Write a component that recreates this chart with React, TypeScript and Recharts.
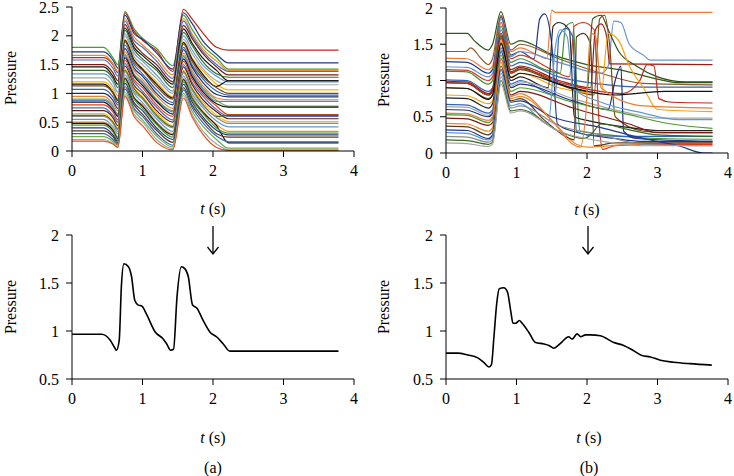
import React from 'react';
import { LineChart, Line, XAxis, YAxis } from 'recharts';

const FONT = 'Times New Roman, Liberation Serif, serif';

// time grid shared by the traces of panel (a), top
const tA = [0, 0.45, 0.58, 0.65, 0.75, 0.88, 1.0, 1.2, 1.43, 1.58, 1.7, 1.85, 2.05, 2.22, 3.78];

const linesA: number[][] = [
  [1.80, 1.80, 1.62, 1.50, 2.42, 2.12, 1.96, 1.78, 1.48, 2.36, 2.12, 1.84, 1.62, 1.42, 1.42],
  [1.62, 1.62, 1.50, 1.36, 2.40, 2.08, 1.92, 1.74, 1.38, 2.46, 2.30, 2.06, 1.80, 1.75, 1.75],
  [1.72, 1.72, 1.58, 1.44, 2.36, 2.04, 1.94, 1.70, 1.42, 2.40, 2.22, 1.92, 1.68, 1.53, 1.53],
  [1.66, 1.66, 1.52, 1.38, 2.30, 1.98, 1.84, 1.62, 1.32, 2.30, 2.04, 1.78, 1.56, 1.40, 1.40],
  [1.58, 1.58, 1.44, 1.30, 2.26, 1.92, 1.80, 1.56, 1.26, 2.26, 2.00, 1.74, 1.50, 1.38, 1.38],
  [1.50, 1.50, 1.36, 1.22, 2.20, 1.86, 1.70, 1.50, 1.20, 2.18, 1.96, 1.70, 1.46, 1.32, 1.32],
  [1.46, 1.46, 1.30, 1.16, 2.14, 1.80, 1.66, 1.44, 1.16, 2.12, 1.88, 1.62, 1.40, 1.22, 1.22],
  [1.40, 1.40, 1.26, 1.10, 2.10, 1.76, 1.60, 1.40, 1.10, 2.06, 1.84, 1.56, 1.34, 1.28, 1.28],
  [1.34, 1.34, 1.20, 1.02, 2.04, 1.70, 1.56, 1.32, 1.04, 2.00, 1.76, 1.50, 1.30, 1.20, 1.20],
  [1.27, 1.27, 1.12, 0.96, 2.00, 1.64, 1.50, 1.26, 1.00, 1.94, 1.70, 1.44, 1.22, 1.15, 1.15],
  [1.20, 1.20, 1.06, 0.90, 1.94, 1.60, 1.44, 1.20, 0.94, 1.90, 1.62, 1.40, 1.16, 1.06, 1.06],
  [1.16, 1.16, 1.02, 0.88, 1.92, 1.58, 1.42, 1.16, 0.92, 1.88, 1.60, 1.34, 1.12, 1.22, 1.22],
  [1.13, 1.13, 1.00, 0.84, 1.90, 1.54, 1.40, 1.12, 0.90, 1.86, 1.56, 1.30, 1.10, 1.00, 1.00],
  [1.07, 1.07, 0.94, 0.80, 1.84, 1.50, 1.34, 1.06, 0.84, 1.80, 1.50, 1.26, 1.04, 0.97, 0.97],
  [1.00, 1.00, 0.88, 0.74, 1.78, 1.44, 1.30, 1.00, 0.80, 1.76, 1.46, 1.20, 0.98, 0.94, 0.94],
  [0.95, 0.95, 0.82, 0.70, 1.72, 1.40, 1.24, 0.96, 0.74, 1.70, 1.40, 1.14, 0.92, 0.89, 0.89],
  [0.90, 0.90, 0.78, 0.64, 1.68, 1.34, 1.20, 0.90, 0.70, 1.66, 1.36, 1.10, 0.88, 0.78, 0.78],
  [0.88, 0.88, 0.76, 0.62, 1.66, 1.32, 1.18, 0.88, 0.68, 1.64, 1.34, 1.08, 0.86, 0.86, 0.86],
  [0.85, 0.85, 0.72, 0.60, 1.62, 1.30, 1.14, 0.86, 0.64, 1.60, 1.30, 1.04, 0.82, 0.76, 0.76],
  [0.80, 0.80, 0.68, 0.54, 1.58, 1.24, 1.10, 0.80, 0.60, 1.56, 1.26, 1.00, 0.78, 0.63, 0.63],
  [0.75, 0.75, 0.62, 0.50, 1.52, 1.20, 1.04, 0.76, 0.54, 1.50, 1.20, 0.96, 0.72, 0.60, 0.60],
  [0.70, 0.70, 0.58, 0.44, 1.48, 1.14, 1.00, 0.70, 0.50, 1.46, 1.16, 0.90, 0.68, 0.56, 0.56],
  [0.65, 0.65, 0.52, 0.40, 1.42, 1.10, 0.94, 0.66, 0.44, 1.40, 1.10, 0.86, 0.62, 0.51, 0.51],
  [0.62, 0.62, 0.50, 0.38, 1.40, 1.08, 0.92, 0.62, 0.42, 1.38, 1.08, 0.82, 0.60, 0.62, 0.62],
  [0.60, 0.60, 0.48, 0.34, 1.38, 1.04, 0.90, 0.60, 0.40, 1.36, 1.06, 0.80, 0.58, 0.48, 0.48],
  [0.55, 0.55, 0.42, 0.30, 1.32, 1.00, 0.84, 0.56, 0.34, 1.30, 1.00, 0.76, 0.52, 0.42, 0.42],
  [0.50, 0.50, 0.38, 0.25, 1.28, 0.94, 0.80, 0.50, 0.30, 1.26, 0.96, 0.70, 0.46, 0.34, 0.34],
  [0.48, 0.48, 0.36, 0.22, 1.26, 0.92, 0.78, 0.48, 0.28, 1.24, 0.92, 0.68, 0.44, 0.14, 0.14],
  [0.45, 0.45, 0.33, 0.20, 1.22, 0.90, 0.74, 0.46, 0.24, 1.20, 0.90, 0.66, 0.40, 0.31, 0.31],
  [0.40, 0.40, 0.28, 0.17, 1.18, 0.84, 0.70, 0.40, 0.20, 1.16, 0.86, 0.60, 0.36, 0.28, 0.28],
  [0.35, 0.35, 0.25, 0.14, 1.12, 0.80, 0.64, 0.36, 0.15, 1.10, 0.80, 0.56, 0.30, 0.24, 0.24],
  [0.30, 0.30, 0.20, 0.12, 1.08, 0.74, 0.60, 0.30, 0.10, 1.06, 0.76, 0.50, 0.26, 0.16, 0.16],
  [0.25, 0.25, 0.17, 0.10, 1.02, 0.70, 0.54, 0.26, 0.07, 1.00, 0.70, 0.44, 0.20, 0.05, 0.05],
  [0.20, 0.20, 0.14, 0.08, 0.98, 0.64, 0.50, 0.20, 0.04, 0.96, 0.64, 0.36, 0.12, 0.02, 0.02],
  [0.17, 0.17, 0.12, 0.06, 0.95, 0.60, 0.44, 0.15, 0.02, 0.92, 0.60, 0.30, 0.06, 0.01, 0.01],
];

const colorsA = [
  '#4e9a2f', '#c0281a', '#1f3a8a', '#f08a24', '#4472c4', '#7b1a10', '#111111', '#3a6b22',
  '#5b9bd5', '#a5a5a5', '#ffb000', '#111111', '#7f4a1a', '#2e64b8', '#1b2f6b', '#ed7d31',
  '#70ad47', '#5b7fd0', '#111111', '#e03c1f', '#4472c4', '#6b1a10', '#ffc000', '#3a6b22',
  '#8c8c8c', '#5b9bd5', '#f08a24', '#111111', '#4e9a2f', '#1f3a8a', '#5c3a1a', '#2e64b8',
  '#70ad47', '#a5a5a5', '#e8501a',
];

// panel (b), top: each trace as [t, pressure] pairs
const linesB: number[][][] = [
  [[0, 1.65], [0.3, 1.65], [0.4, 1.55], [0.6, 1.42], [0.66, 1.5], [0.78, 1.95], [0.92, 1.5], [1.05, 1.55], [1.5, 1.36], [2.0, 1.22], [2.5, 1.14], [3.0, 1.02], [3.3, 0.97], [3.78, 0.97]],
  [[0, 1.4], [0.28, 1.4], [0.35, 1.45], [0.5, 1.3], [0.6, 1.22], [0.66, 1.3], [0.78, 1.9], [0.92, 1.42], [1.05, 1.5], [1.6, 1.3], [2.2, 1.1], [2.8, 0.96], [3.78, 0.94]],
  [[0, 1.31], [0.3, 1.3], [0.6, 1.15], [0.66, 1.2], [0.78, 1.9], [0.92, 1.4], [1.05, 1.45], [1.3, 1.35], [1.43, 1.3], [1.5, 1.97], [1.55, 1.94], [3.78, 1.94]],
  [[0, 1.26], [0.3, 1.25], [0.6, 1.1], [0.66, 1.15], [0.78, 1.88], [0.92, 1.35], [1.05, 1.4], [1.25, 1.3], [1.33, 1.85], [1.4, 1.92], [1.5, 1.5], [1.58, 0.4], [1.8, 0.3], [2.4, 0.2], [2.8, 0.16], [3.78, 0.16]],
  [[0, 1.19], [0.3, 1.18], [0.6, 1.05], [0.66, 1.1], [0.78, 1.85], [0.92, 1.33], [1.05, 1.4], [1.6, 1.25], [2.2, 1.1], [2.3, 1.2], [2.38, 1.82], [2.48, 1.8], [2.6, 1.5], [2.8, 1.35], [2.9, 1.28], [3.78, 1.28]],
  [[0, 1.15], [0.3, 1.14], [0.6, 1.0], [0.66, 1.05], [0.78, 1.8], [0.92, 1.3], [1.05, 1.35], [1.5, 1.15], [1.75, 1.05], [1.82, 1.75], [1.95, 1.8], [2.1, 1.7], [2.18, 0.3], [2.22, 0.05], [2.4, 0.1], [3.0, 0.12], [3.78, 0.12]],
  [[0, 1.13], [0.3, 1.12], [0.6, 0.95], [0.66, 1.0], [0.78, 1.75], [0.92, 1.25], [1.05, 1.3], [1.4, 1.15], [1.62, 1.1], [1.7, 1.75], [1.8, 1.8], [1.85, 1.0], [1.9, 0.3], [2.3, 0.25], [3.0, 0.2], [3.78, 0.19]],
  [[0, 1.01], [0.3, 1.0], [0.6, 0.85], [0.66, 0.9], [0.78, 1.7], [0.92, 1.2], [1.05, 1.25], [1.6, 1.05], [2.2, 0.95], [2.8, 0.91], [3.78, 0.91]],
  [[0, 0.99], [0.3, 0.98], [0.6, 0.82], [0.66, 0.88], [0.78, 1.65], [0.92, 1.15], [1.05, 1.2], [1.6, 1.0], [2.05, 0.9], [2.12, 1.7], [2.2, 1.78], [2.28, 1.6], [2.32, 1.23], [3.78, 1.22]],
  [[0, 0.97], [0.3, 0.96], [0.6, 0.8], [0.66, 0.85], [0.78, 1.62], [0.92, 1.12], [1.05, 1.18], [1.5, 1.0], [2.0, 0.85], [2.08, 1.85], [2.2, 1.9], [2.3, 1.7], [2.45, 1.4], [2.7, 1.2], [3.0, 1.05], [3.4, 0.98], [3.78, 0.98]],
  [[0, 0.9], [0.3, 0.89], [0.6, 0.75], [0.66, 0.8], [0.78, 1.58], [0.92, 1.1], [1.05, 1.15], [1.6, 0.95], [2.1, 0.8], [2.18, 1.85], [2.25, 1.9], [2.32, 1.5], [2.4, 0.5], [2.8, 0.3], [3.1, 0.28], [3.78, 0.28]],
  [[0, 0.97], [0.3, 0.96], [0.6, 0.8], [0.66, 0.86], [0.78, 1.6], [0.92, 1.1], [1.05, 1.16], [1.7, 0.95], [2.5, 0.82], [2.75, 1.0], [2.85, 1.22], [2.95, 1.2], [3.02, 0.75], [3.2, 0.7], [3.78, 0.69]],
  [[0, 0.8], [0.3, 0.79], [0.6, 0.68], [0.66, 0.72], [0.78, 1.55], [0.92, 1.05], [1.05, 1.1], [1.6, 0.9], [2.2, 0.82], [2.3, 1.65], [2.45, 1.55], [2.6, 1.2], [2.8, 0.9], [3.0, 0.6], [3.78, 0.57]],
  [[0, 0.76], [0.3, 0.75], [0.6, 0.62], [0.66, 0.68], [0.78, 1.5], [0.92, 1.0], [1.05, 1.05], [1.45, 0.9], [1.52, 1.75], [1.6, 1.8], [1.75, 1.7], [1.82, 0.5], [2.0, 0.45], [2.6, 0.35], [3.0, 0.31], [3.78, 0.31]],
  [[0, 0.67], [0.3, 0.66], [0.6, 0.55], [0.66, 0.6], [0.78, 1.45], [0.92, 0.95], [1.05, 1.0], [1.55, 0.8], [1.6, 1.6], [1.7, 1.72], [1.8, 1.6], [1.85, 0.3], [2.0, 0.25], [2.5, 0.23], [3.78, 0.23]],
  [[0, 0.64], [0.3, 0.63], [0.6, 0.52], [0.66, 0.58], [0.78, 1.42], [0.92, 0.92], [1.05, 0.98], [1.8, 0.75], [2.6, 0.55], [3.0, 0.48], [3.78, 0.48]],
  [[0, 0.6], [0.3, 0.59], [0.6, 0.5], [0.66, 0.55], [0.78, 1.4], [0.92, 0.9], [1.05, 0.95], [1.8, 0.72], [2.3, 0.6], [2.4, 1.0], [2.48, 1.2], [2.52, 0.3], [2.7, 0.2], [3.78, 0.16]],
  [[0, 0.53], [0.3, 0.52], [0.6, 0.42], [0.66, 0.48], [0.78, 1.35], [0.92, 0.85], [1.05, 0.9], [1.8, 0.7], [2.5, 0.55], [3.2, 0.4], [3.78, 0.34]],
  [[0, 0.48], [0.3, 0.47], [0.6, 0.38], [0.66, 0.42], [0.78, 1.3], [0.92, 0.8], [1.05, 0.85], [1.8, 0.62], [2.6, 0.4], [3.0, 0.28], [3.78, 0.28]],
  [[0, 0.41], [0.3, 0.4], [0.6, 0.3], [0.66, 0.35], [0.78, 1.25], [0.92, 0.75], [1.05, 0.78], [1.5, 0.45], [1.85, 0.12], [2.0, 0.08], [2.6, 0.12], [3.78, 0.14]],
  [[0, 0.37], [0.3, 0.36], [0.6, 0.25], [0.66, 0.3], [0.78, 1.2], [0.92, 0.72], [1.05, 0.75], [1.4, 0.45], [1.75, 0.2], [1.82, 0.18], [1.85, 1.6], [1.95, 1.65], [2.05, 1.5], [2.1, 0.1], [2.4, 0.14], [3.78, 0.14]],
  [[0, 0.32], [0.3, 0.31], [0.6, 0.2], [0.66, 0.25], [0.78, 1.15], [0.92, 0.7], [1.05, 0.72], [1.5, 0.5], [2.2, 0.35], [2.8, 0.2], [3.3, 0.1], [3.65, 0.0], [3.78, 0.0]],
  [[0, 0.28], [0.3, 0.27], [0.6, 0.18], [0.66, 0.22], [0.78, 1.1], [0.92, 0.65], [1.05, 0.68], [1.45, 0.4], [1.55, 1.45], [1.62, 1.7], [1.72, 1.6], [1.8, 0.9], [2.2, 0.7], [2.8, 0.55], [3.3, 0.46], [3.78, 0.46]],
  [[0, 0.23], [0.3, 0.22], [0.6, 0.15], [0.66, 0.18], [0.78, 1.05], [0.92, 0.62], [1.05, 0.65], [1.6, 0.38], [2.2, 0.25], [2.8, 0.12], [3.78, 0.1]],
  [[0, 0.18], [0.3, 0.17], [0.6, 0.12], [0.66, 0.15], [0.78, 1.0], [0.92, 0.58], [1.05, 0.6], [1.6, 0.3], [1.95, 0.2], [2.05, 0.25], [2.2, 0.4], [2.6, 0.32], [3.0, 0.25], [3.78, 0.23]],
  [[0, 0.14], [0.3, 0.13], [0.6, 0.09], [0.66, 0.12], [0.78, 0.95], [0.92, 0.55], [1.05, 0.58], [1.6, 0.3], [2.3, 0.15], [2.8, 0.1], [3.78, 0.1]],
  [[0, 0.9], [0.3, 0.89], [0.6, 0.74], [0.66, 0.8], [0.78, 1.52], [0.92, 1.04], [1.05, 1.1], [1.7, 0.92], [2.4, 0.8], [3.1, 0.85], [3.78, 0.85]],
  [[0, 0.55], [0.3, 0.54], [0.6, 0.45], [0.66, 0.5], [0.78, 1.3], [0.92, 0.78], [1.05, 0.82], [1.5, 0.45], [1.8, 0.12], [1.9, 0.08], [1.98, 0.5], [2.05, 1.65], [2.12, 1.62], [2.2, 0.9], [2.8, 0.65], [3.78, 0.62]],
];

const colorsB = [
  '#2f5a1a', '#8a5a2a', '#f4793b', '#1f3a8a', '#6b93d6', '#d9381e', '#3f8f2f', '#2e64b8',
  '#9b1c14', '#2f4f1a', '#7a4a12', '#c0281a', '#ffa000', '#222222', '#2e64b8', '#a5a5a5',
  '#1b2f8b', '#4e9a2f', '#7b1a10', '#f08a24', '#5c3a1a', '#1f3a8a', '#5b9bd5', '#8c8c8c',
  '#3a6b22', '#a5a5a5', '#111111', '#ed7d31',
];

// ensemble means (bottom panels), [t, pressure]
const meanA: number[][] = [
  [0, 0.966], [0.42, 0.966], [0.54, 0.906], [0.61, 0.82], [0.63, 0.8], [0.67, 0.906], [0.7, 1.46],
  [0.737, 1.7], [0.8, 1.67], [0.845, 1.565], [0.89, 1.32], [0.94, 1.27], [0.99, 1.26], [1.06, 1.17],
  [1.18, 0.99], [1.29, 0.92], [1.34, 0.87], [1.4, 0.8], [1.44, 0.81], [1.49, 1.36], [1.55, 1.67],
  [1.6, 1.65], [1.65, 1.565], [1.71, 1.27], [1.77, 1.24], [1.86, 1.11], [1.955, 0.99], [2.05, 0.94],
  [2.14, 0.87], [2.24, 0.79], [2.28, 0.79], [3.78, 0.79],
];

const meanB: number[][] = [
  [0, 0.77], [0.165, 0.77], [0.31, 0.75], [0.45, 0.72], [0.54, 0.67], [0.61, 0.625], [0.645, 0.65],
  [0.68, 0.94], [0.72, 1.29], [0.755, 1.44], [0.82, 1.45], [0.87, 1.41], [0.92, 1.2], [0.95, 1.08],
  [0.99, 1.08], [1.04, 1.11], [1.08, 1.08], [1.18, 0.98], [1.27, 0.88], [1.39, 0.865], [1.46, 0.85],
  [1.53, 0.82], [1.59, 0.85], [1.65, 0.89], [1.74, 0.94], [1.79, 0.915], [1.86, 0.97], [1.91, 0.94],
  [1.98, 0.96], [2.05, 0.96], [2.19, 0.95], [2.38, 0.88], [2.52, 0.85], [2.64, 0.805], [2.78, 0.745],
  [2.9, 0.73], [3.04, 0.695], [3.23, 0.675], [3.46, 0.66], [3.77, 0.645],
];

const xTicks = [0, 1, 2, 3, 4];

const toPts = (pairs: number[][]) => pairs.map(([t, p]) => ({ t, p }));

const tickStyle = { fill: '#000', fontSize: 16, fontFamily: FONT };

interface PanelProps {
  left: number;
  top: number;
  width: number;
  height: number;
  yWidth: number;
  marginTop: number;
  marginRight: number;
  yDomain: number[];
  yTicks: number[];
  series: { pts: { t: number; p: number }[]; color: string; w: number }[];
}

const Panel: React.FC<PanelProps> = ({ left, top, width, height, yWidth, marginTop, marginRight, yDomain, yTicks, series }) => (
  <div style={{ position: 'absolute', left, top }}>
    <LineChart width={width} height={height} margin={{ top: marginTop, right: marginRight, left: 0, bottom: 0 }}>
      <XAxis
        dataKey="t"
        type="number"
        domain={[0, 4]}
        ticks={xTicks}
        interval={0}
        allowDataOverflow
        height={34}
        tickSize={6}
        tickMargin={8}
        tick={tickStyle}
        axisLine={{ stroke: '#000' }}
        tickLine={{ stroke: '#000' }}
      />
      <YAxis
        type="number"
        domain={yDomain}
        ticks={yTicks}
        interval={0}
        allowDataOverflow
        width={yWidth}
        tickSize={6}
        tickMargin={7}
        tick={tickStyle}
        axisLine={{ stroke: '#000' }}
        tickLine={{ stroke: '#000' }}
      />
      {series.map((s, i) => (
        <Line
          key={i}
          data={s.pts}
          dataKey="p"
          type="monotone"
          stroke={s.color}
          strokeWidth={s.w}
          dot={false}
          activeDot={false}
          isAnimationActive={false}
        />
      ))}
    </LineChart>
  </div>
);

const Txt: React.FC<{ x: number; y: number; rotate?: boolean; children: React.ReactNode }> = ({ x, y, rotate, children }) => (
  <div
    style={{
      position: 'absolute',
      left: x,
      top: y,
      transform: `translate(-50%, -50%)${rotate ? ' rotate(-90deg)' : ''}`,
      fontFamily: FONT,
      fontSize: 16,
      whiteSpace: 'nowrap',
      color: '#000',
      lineHeight: 1,
    }}
  >
    {children}
  </div>
);

const TLabel = () => (
  <span>
    <i>t</i> (s)
  </span>
);

export default function App() {
  const topA = linesA.map((row, i) => ({
    pts: row.map((p, j) => ({ t: tA[j], p })),
    color: colorsA[i % colorsA.length],
    w: 1.2,
  }));
  const topB = linesB.map((pairs, i) => ({
    pts: toPts(pairs),
    color: colorsB[i % colorsB.length],
    w: 1.2,
  }));

  return (
    <div style={{ position: 'absolute', left: 0, top: 0, width: 734, height: 476, background: '#fff', overflow: 'hidden' }}>
      <Panel left={0} top={0} width={370} height={185} yWidth={72} marginTop={7} marginRight={16}
        yDomain={[0, 2.5]} yTicks={[0, 0.5, 1, 1.5, 2, 2.5]} series={topA} />
      <Panel left={368} top={0} width={366} height={187} yWidth={78} marginTop={8} marginRight={6}
        yDomain={[0, 2]} yTicks={[0, 0.5, 1, 1.5, 2]} series={topB} />
      <Panel left={0} top={220} width={370} height={193} yWidth={72} marginTop={15} marginRight={16}
        yDomain={[0.5, 2]} yTicks={[0.5, 1, 1.5, 2]} series={[{ pts: toPts(meanA), color: '#000', w: 1.6 }]} />
      <Panel left={368} top={220} width={366} height={193} yWidth={78} marginTop={15} marginRight={6}
        yDomain={[0.5, 2]} yTicks={[0.5, 1, 1.5, 2]} series={[{ pts: toPts(meanB), color: '#000', w: 1.6 }]} />

      <Txt x={11} y={78} rotate>Pressure</Txt>
      <Txt x={384} y={80} rotate>Pressure</Txt>
      <Txt x={11} y={307} rotate>Pressure</Txt>
      <Txt x={384} y={307} rotate>Pressure</Txt>

      <Txt x={213} y={209}><TLabel /></Txt>
      <Txt x={587} y={210}><TLabel /></Txt>
      <Txt x={213} y={438}><TLabel /></Txt>
      <Txt x={589} y={438}><TLabel /></Txt>

      <Txt x={213} y={468}>(a)</Txt>
      <Txt x={589} y={468}>(b)</Txt>

      <svg width={734} height={476} style={{ position: 'absolute', left: 0, top: 0, pointerEvents: 'none' }}>
        <g stroke="#000" strokeWidth={1.3} fill="none">
          <line x1={213} y1={226} x2={213} y2={254} />
          <polyline points="207.5,247 213,254 218.5,247" />
          <line x1={588} y1={226} x2={588} y2={254} />
          <polyline points="582.5,247 588,254 593.5,247" />
        </g>
      </svg>
    </div>
  );
}
